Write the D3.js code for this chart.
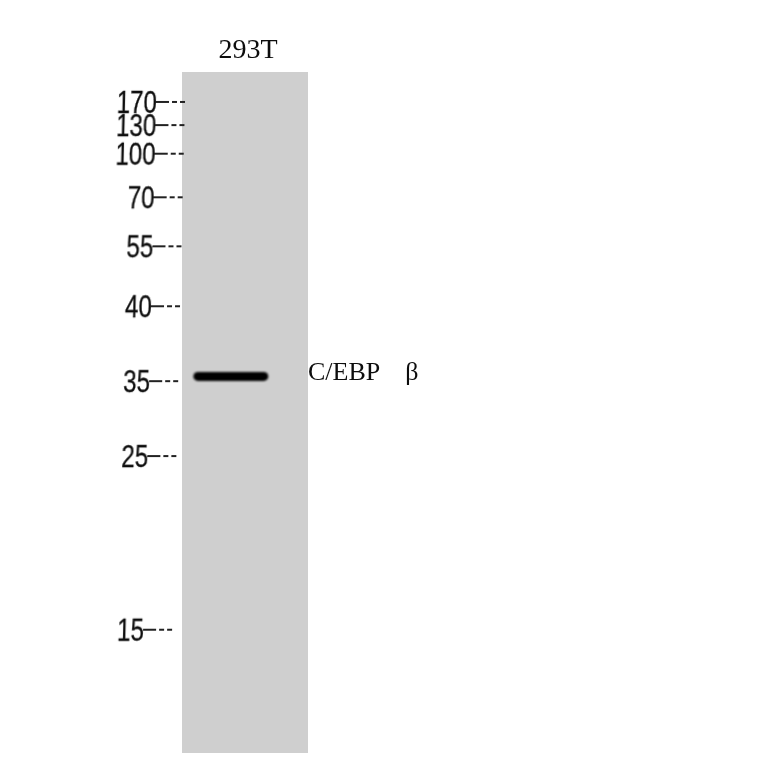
<!DOCTYPE html>
<head>
<meta charset="utf-8">
<title>293T C/EBP beta western blot</title>
<style>
body { margin: 0; background: #fff; }
.marker text { font: 31px "Liberation Sans", Arial, sans-serif; fill: #111; stroke: #111; stroke-width: 0.3px; }
.lane-label { font: 28px "Liberation Serif", "Times New Roman", serif; fill: #111; }
.band-label { font: 26px "Liberation Serif", "Times New Roman", serif; fill: #111; }
</style>
</head>
<body>
<svg width="764" height="764"></svg>
<script src="https://cdnjs.cloudflare.com/ajax/libs/d3/7.8.5/d3.min.js"></script>
<script>
// marker ladder (kDa) and relative migration (0 = top of lane, 1 = bottom)
const markerLabels = ["170", "130", "100", "70", "55", "40", "35", "25", "15"];
const markerRf = [0.044, 0.078, 0.120, 0.184, 0.256, 0.344, 0.454, 0.564, 0.819];

const lanes = ["293T"];
// detected band in each lane: relative migration, start/end across lane width
const bandRf = [0.447];
const bandFrom = [0.09];
const bandTo = [0.685];
const bandLabels = ["C/EBP β"];

const svg = d3.select("svg");
const gel = {left: 182, right: 308, top: 72, bottom: 753};

const x = d3.scaleBand().domain(lanes).range([gel.left, gel.right]).padding(0);
const y = d3.scaleLinear().domain([0, 1]).range([gel.top, gel.bottom]);
const across = d3.scaleLinear().domain([0, 1]).range([0, x.bandwidth()]);

const defs = svg.append("defs");
defs.append("filter").attr("id", "soft")
    .attr("x", "-20%").attr("y", "-100%").attr("width", "140%").attr("height", "300%")
    .append("feGaussianBlur").attr("stdDeviation", 0.9);
defs.append("filter").attr("id", "softer")
    .append("feGaussianBlur").attr("stdDeviation", 0.45);

// lanes
svg.selectAll("rect.lane")
  .data(lanes)
  .join("rect")
    .attr("class", "lane")
    .attr("x", d => x(d))
    .attr("y", y(0))
    .attr("width", x.bandwidth())
    .attr("height", y(1) - y(0))
    .attr("fill", "#cfcfcf");

svg.selectAll("text.lane-label")
  .data(lanes)
  .join("text")
    .attr("class", "lane-label")
    .attr("x", d => x(d) + x.bandwidth() / 2 + 3)
    .attr("y", y(0) - 14)
    .attr("text-anchor", "middle")
    .attr("filter", "url(#softer)")
    .text(d => d);

// bands
const bandH = 9;
svg.selectAll("rect.band")
  .data(bandRf)
  .join("rect")
    .attr("class", "band")
    .attr("x", (d, i) => x(lanes[i]) + across(bandFrom[i]))
    .attr("width", (d, i) => across(bandTo[i]) - across(bandFrom[i]))
    .attr("y", d => y(d) - bandH / 2)
    .attr("height", bandH)
    .attr("rx", bandH / 2)
    .attr("fill", "#050505")
    .attr("filter", "url(#soft)");

const bl = svg.selectAll("text.band-label")
  .data(bandRf)
  .join("text")
    .attr("class", "band-label")
    .attr("x", gel.right)
    .attr("y", d => y(d) + 4)
    .attr("filter", "url(#softer)");
bl.append("tspan").text((d, i) => bandLabels[i].split(" ")[0]);
bl.append("tspan").attr("dx", 25).text((d, i) => bandLabels[i].split(" ")[1]);

// molecular weight markers, slightly slanted like the scanned ladder
const markers = svg.append("g")
    .attr("transform", "translate(189.5,0) skewX(-1.4)");

const mk = markers.selectAll("g.marker")
  .data(markerRf)
  .join("g")
    .attr("class", "marker")
    .attr("transform", d => `translate(0,${y(d)})`)
    .attr("filter", "url(#softer)");

mk.append("line")
    .attr("x1", -31)
    .attr("x2", -2)
    .attr("stroke", "#222")
    .attr("stroke-width", 1.8)
    .attr("stroke-dasharray", "13,3,5,3,5");

mk.append("text")
    .attr("text-anchor", "end")
    .attr("transform", "translate(-30,11) scale(0.78,1)")
    .text((d, i) => markerLabels[i]);
</script>
</body>
